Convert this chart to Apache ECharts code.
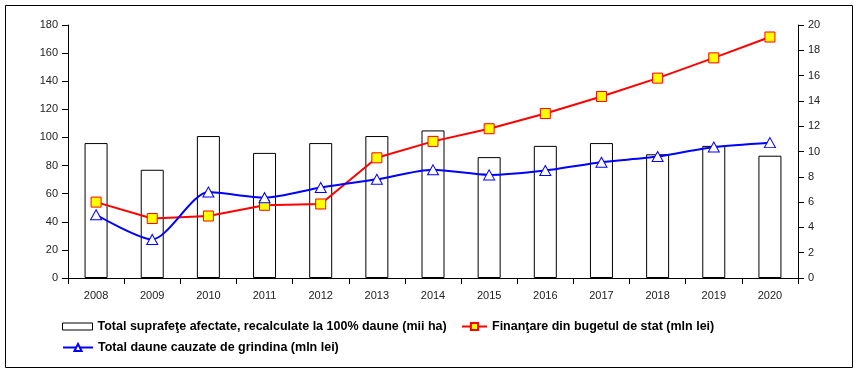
<!DOCTYPE html>
<html>
<head>
<meta charset="utf-8">
<script src="https://cdn.jsdelivr.net/npm/echarts@6/dist/echarts.min.js"></script>
<style>
html,body{margin:0;padding:0;background:#fff;}
#chart{width:860px;height:373px;}
</style>
</head>
<body>
<div id="chart"></div>
<script>
const years = ['2008','2009','2010','2011','2012','2013','2014','2015','2016','2017','2018','2019','2020'];
const suprafete = [96, 77, 101, 89, 96, 101, 105, 86, 94, 96, 88, 94, 87];
const finantare = [6.0, 4.7, 4.9, 5.75, 5.85, 9.5, 10.8, 11.8, 13.0, 14.35, 15.8, 17.4, 19.05];
const daune = [5.0, 3.05, 6.8, 6.35, 7.15, 7.8, 8.55, 8.15, 8.5, 9.15, 9.6, 10.35, 10.7];
const leftTicks = {min: 0, max: 180, interval: 20};
const rightTicks = {min: 0, max: 20, interval: 2};
const names = [
  'Total suprafeţe afectate, recalculate la 100% daune (mii ha)',
  'Finanţare din bugetul de stat (mln lei)',
  'Total daune cauzate de grindina (mln lei)'
];

const chart = echarts.init(document.getElementById('chart'), null, {renderer: 'canvas'});
const labelFont = {fontFamily: 'Liberation Sans, Arial, sans-serif', fontSize: 11, color: '#222'};
const legendText = {fontFamily: 'Liberation Sans, Arial, sans-serif', fontSize: 12.5, fontWeight: 'bold', color: '#000'};

chart.setOption({
  animation: false,
  backgroundColor: '#fff',
  graphic: [{
    type: 'rect',
    shape: {x: 5.5, y: 5.5, width: 847, height: 362},
    style: {fill: 'none', stroke: '#000', lineWidth: 1},
    silent: true
  }],
  grid: {left: 68, right: 62, top: 25, bottom: 95},
  legend: [{
    left: 62, top: 320, padding: 0,
    itemWidth: 30, itemHeight: 7,
    textStyle: legendText,
    data: [{name: names[0], icon: 'rect', itemStyle: {color: '#fff', borderColor: '#000', borderWidth: 1}}]
  }, {
    left: 461, top: 320, padding: 0,
    itemWidth: 25, itemHeight: 9,
    textStyle: legendText,
    data: [names[1]]
  }, {
    left: 62, top: 341, padding: 0,
    itemWidth: 30, itemHeight: 9,
    textStyle: legendText,
    data: [names[2]]
  }],
  xAxis: {
    type: 'category',
    data: years,
    boundaryGap: true,
    axisLine: {lineStyle: {color: '#000', width: 1}},
    axisTick: {show: true, length: 6, lineStyle: {color: '#000'}},
    axisLabel: Object.assign({margin: 12}, labelFont),
    splitLine: {show: false}
  },
  yAxis: [{
    type: 'value',
    min: leftTicks.min, max: leftTicks.max, interval: leftTicks.interval,
    axisLine: {show: true, lineStyle: {color: '#000', width: 1}},
    axisTick: {show: true, length: 6, lineStyle: {color: '#000'}},
    axisLabel: Object.assign({margin: 10}, labelFont),
    splitLine: {show: false}
  }, {
    type: 'value',
    position: 'right',
    min: rightTicks.min, max: rightTicks.max, interval: rightTicks.interval,
    axisLine: {show: true, lineStyle: {color: '#000', width: 1}},
    axisTick: {show: true, length: 6, lineStyle: {color: '#000'}},
    axisLabel: Object.assign({margin: 10}, labelFont),
    splitLine: {show: false}
  }],
  series: [{
    name: names[0],
    type: 'bar',
    yAxisIndex: 0,
    data: suprafete,
    barWidth: 23,
    itemStyle: {color: '#fff', borderColor: '#000', borderWidth: 1},
    z: 1
  }, {
    name: names[1],
    type: 'line',
    yAxisIndex: 1,
    data: finantare,
    symbol: 'rect',
    symbolSize: 10,
    showAllSymbol: true,
    lineStyle: {color: '#ff0000', width: 2},
    itemStyle: {color: '#ffff00', borderColor: '#ff0000', borderWidth: 1},
    z: 3
  }, {
    name: names[2],
    type: 'line',
    yAxisIndex: 1,
    data: daune,
    smooth: 0.25,
    symbol: 'triangle',
    symbolSize: [11, 10],
    showAllSymbol: true,
    lineStyle: {color: '#0000ff', width: 2},
    itemStyle: {color: '#fff', borderColor: '#0000ff', borderWidth: 1},
    z: 4
  }]
});
</script>
</body>
</html>
